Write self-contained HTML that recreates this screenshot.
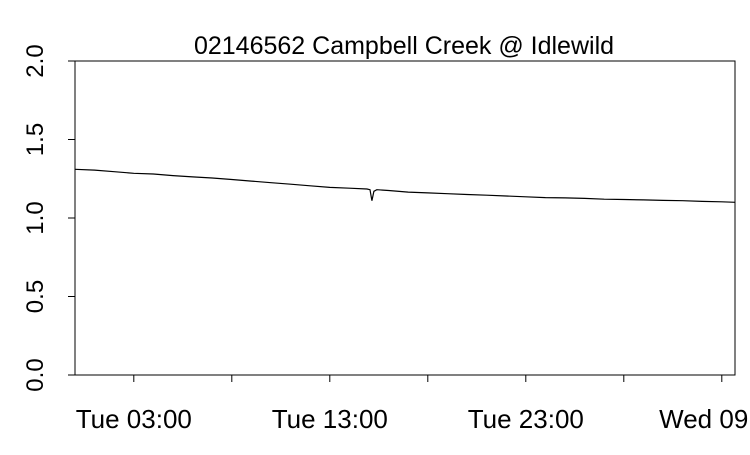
<!DOCTYPE html>
<html><head><meta charset="utf-8"><style>
body{margin:0;background:#fff}
svg text{font-family:"Liberation Sans",Arial,sans-serif;fill:#000}
</style></head><body>
<svg width="750" height="450">
<rect width="750" height="450" fill="#fff"/>
<text x="404" y="54" font-size="25" text-anchor="middle">02146562 Campbell Creek @ Idlewild</text>
<rect x="75" y="61" width="660" height="314" fill="none" stroke="#000" stroke-width="1"/>
<g id="axes"></g>
<path id="line" fill="none" stroke="#000" stroke-width="1.2"/>
</svg>
<script>
const hours=[0,1,2,3,4,5,6,7,8,9,10,11,12,13,14,14.9,15.05,15.15,15.25,15.4,16,17,18,19,20,21,22,23,24,25,26,27,28,29,30,31,32,33,33.7];
const values=[1.31,1.305,1.295,1.285,1.28,1.27,1.262,1.255,1.245,1.235,1.225,1.215,1.205,1.195,1.19,1.185,1.18,1.11,1.17,1.18,1.175,1.165,1.16,1.155,1.15,1.145,1.14,1.135,1.13,1.128,1.125,1.12,1.118,1.115,1.112,1.11,1.106,1.103,1.10];
const yTicks=[0,0.5,1,1.5,2];
const yTickLabels=["0.0","0.5","1.0","1.5","2.0"];
const xTicks=[3,8,13,18,23,28,33];
const xTickLabels=["Tue 03:00","","Tue 13:00","","Tue 23:00","","Wed 09:00"];
const X=h=>75+h*19.6, Y=v=>375-v*157;
const ns="http://www.w3.org/2000/svg", g=document.getElementById('axes');
function mk(t,a){const e=document.createElementNS(ns,t);for(const k in a)e.setAttribute(k,a[k]);g.appendChild(e);return e;}
yTicks.forEach((v,i)=>{
 const l=mk('line',{x1:68,x2:75,y1:Y(v),y2:Y(v),stroke:'#000'});
 
 
 const t=mk('text',{x:0,y:0,'font-size':24,'text-anchor':'middle',transform:`translate(43,${Y(v)}) rotate(-90)`});
 t.textContent=yTickLabels[i];
 
 
});
xTicks.forEach((h,i)=>{
 const l=mk('line',{x1:X(h),x2:X(h),y1:375,y2:382,stroke:'#000'});
 
 
 if(xTickLabels[i]){
  const t=mk('text',{x:X(h),y:428,'font-size':26,'text-anchor':'middle'});
  t.textContent=xTickLabels[i];
  
  
 }
});
document.getElementById('line').setAttribute('d',hours.map((h,i)=>(i?'L':'M')+X(h).toFixed(1)+','+Y(values[i]).toFixed(1)).join(''));
</script>
</body></html>
